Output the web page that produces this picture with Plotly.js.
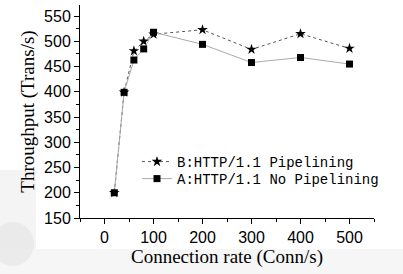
<!DOCTYPE html>
<html><head><meta charset="utf-8">
<script src="https://cdn.plot.ly/plotly-3.0.1.min.js"></script>
<style>html,body{margin:0;padding:0;background:#fff}#c{width:403px;height:274px}</style>
</head><body><div id="c"></div>
<script>
const rates = [20, 40, 60, 80, 100, 200, 300, 400, 500];
const pipelining = [200, 399, 481, 500, 514, 523, 484, 515, 486];
const noPipelining = [200, 399, 463, 485, 518, 494, 458, 468, 455];
const nameB = 'B:HTTP/1.1 Pipelining';
const nameA = 'A:HTTP/1.1 No Pipelining';
const xTicks = [0, 100, 200, 300, 400, 500];
const yTicks = [150, 200, 250, 300, 350, 400, 450, 500, 550];

const traces = [
  {x: rates, y: pipelining, name: nameB, mode: 'lines+markers', type: 'scatter', legend: 'legend',
   line: {color: '#555', width: 1, dash: 'dot'},
   marker: {symbol: 'star', size: 8, color: '#000'}},
  {x: rates, y: noPipelining, name: nameA, mode: 'lines+markers', type: 'scatter', legend: 'legend2',
   line: {color: '#aaa', width: 1},
   marker: {symbol: 'square', size: 7, color: '#000'}}
];
const axisFont = {family: 'Liberation Sans, Arial', size: 16, color: '#000'};
const titleFont = {family: 'Liberation Serif, Times New Roman', size: 19, color: '#000'};
const legFont = {family: 'Liberation Mono, DejaVu Sans Mono, monospace', size: 14, color: '#000'};
function px2x(p){ return (p - 80) / 294; }
function py2y(p){ return (218 - p) / 213; }
const layout = {
  width: 403, height: 274,
  margin: {l: 80, r: 29, t: 5, b: 56},
  paper_bgcolor: '#fff', plot_bgcolor: '#fff',
  showlegend: true,
  legend: {x: px2x(137), y: py2y(162), xanchor: 'left', yanchor: 'middle', bgcolor: 'rgba(0,0,0,0)', font: legFont, borderwidth: 0},
  legend2: {x: px2x(137), y: py2y(179), xanchor: 'left', yanchor: 'middle', bgcolor: 'rgba(0,0,0,0)', font: legFont, borderwidth: 0},
  shapes: [
    {type: 'rect', xref: 'paper', yref: 'paper', x0: px2x(0), x1: px2x(403), y0: py2y(274), y1: py2y(249), fillcolor: '#f6f6f6', line: {width: 0}, layer: 'below'},
    {type: 'rect', xref: 'paper', yref: 'paper', x0: px2x(0), x1: px2x(36), y0: py2y(249), y1: py2y(170), fillcolor: '#f4f4f4', line: {width: 0}, layer: 'below'},
    {type: 'circle', xref: 'paper', yref: 'paper', x0: px2x(-8), x1: px2x(34), y0: py2y(266), y1: py2y(222), fillcolor: 'rgba(215,215,215,0.35)', line: {width: 0}, layer: 'below'},
    {type: 'rect', xref: 'paper', yref: 'paper', x0: px2x(36), x1: px2x(403), y0: py2y(249), y1: py2y(0), fillcolor: '#fff', line: {width: 0}, layer: 'below'}
  ],
  xaxis: {range: [-50, 550], tickvals: xTicks, showgrid: false, zeroline: false,
          showline: true, linecolor: '#000', linewidth: 1, ticks: 'outside', ticklen: 5, tickcolor: '#000',
          minor: {dtick: 50, tick0: 0, ticks: 'outside', ticklen: 3, tickcolor: '#000', showgrid: false},
          tickfont: axisFont,
          title: {text: 'Connection rate (Conn/s)', font: titleFont, standoff: 4}},
  yaxis: {range: [150, 572], tickvals: yTicks, showgrid: false, zeroline: false,
          showline: true, linecolor: '#000', linewidth: 1, ticks: 'outside', ticklen: 5, tickcolor: '#000',
          minor: {dtick: 25, tick0: 150, ticks: 'outside', ticklen: 3, tickcolor: '#000', showgrid: false},
          tickfont: axisFont,
          title: {text: 'Throughput (Trans/s)', font: titleFont, standoff: 4}}
};
Plotly.newPlot('c', traces, layout, {displayModeBar: false, staticPlot: true});
</script></body></html>
